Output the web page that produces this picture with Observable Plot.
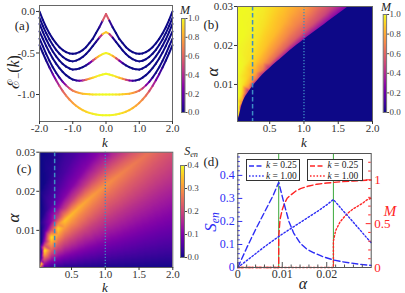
<!DOCTYPE html>
<html><head><meta charset="utf-8">
<script src="https://cdn.jsdelivr.net/npm/d3@7"></script>
<script src="https://cdn.jsdelivr.net/npm/@observablehq/plot@0.6"></script>
<style>
html,body{margin:0;padding:0;background:#fff;}
#root{position:relative;width:405px;height:293px;overflow:hidden;font-family:"Liberation Serif","DejaVu Serif",serif;color:#222;}
#root svg{position:absolute;overflow:visible;}
#root svg text{font-family:"Liberation Serif","DejaVu Serif",serif !important;}
.lbl{position:absolute;white-space:nowrap;line-height:1;}
.lbl sub{font-size:68%;vertical-align:-0.3em;}
.lg{position:absolute;border:1px solid #333;background:#fff;box-sizing:border-box;font-size:9.5px;}
.lg .row{position:absolute;left:2px;white-space:nowrap;line-height:10px;height:10px;}
.lg .row svg{position:relative !important;vertical-align:middle;}
</style></head><body><div id="root"></div>
<script>
// ---------------- DATA ----------------
// (a) lower band E_-(k), read at k = 0 ... 2.0 (symmetric in k)
const kHalf = [0,0.1,0.2,0.3,0.4,0.5,0.6,0.7,0.8,0.9,1.0,1.1,1.2,1.3,1.4,1.5,1.6,1.7,1.8,1.9,2.0];
const energy1 = [-0.03,-0.11,-0.19,-0.26,-0.33,-0.38,-0.43,-0.465,-0.49,-0.505,-0.51,-0.505,-0.49,-0.465,-0.43,-0.385,-0.33,-0.265,-0.19,-0.10,0.0];
const energy2 = [-0.25,-0.271,-0.314,-0.366,-0.418,-0.469,-0.512,-0.547,-0.574,-0.592,-0.601,-0.593,-0.575,-0.547,-0.509,-0.462,-0.404,-0.337,-0.26,-0.173,-0.076];
const energy3 = [-0.50,-0.513,-0.535,-0.562,-0.592,-0.622,-0.649,-0.671,-0.687,-0.697,-0.70,-0.686,-0.664,-0.633,-0.592,-0.541,-0.482,-0.413,-0.335,-0.247,-0.15];
const energy4 = [-0.75,-0.759,-0.77,-0.784,-0.798,-0.811,-0.822,-0.83,-0.833,-0.83,-0.82,-0.797,-0.767,-0.729,-0.682,-0.628,-0.566,-0.495,-0.415,-0.328,-0.24];
const energy5 = [-1.0,-1.0,-1.0,-1.0,-0.999,-0.998,-0.995,-0.99,-0.982,-0.97,-0.954,-0.926,-0.89,-0.847,-0.796,-0.738,-0.671,-0.595,-0.511,-0.418,-0.326];
const energy6 = [-1.25,-1.249,-1.246,-1.24,-1.232,-1.221,-1.207,-1.188,-1.164,-1.135,-1.101,-1.06,-1.013,-0.959,-0.897,-0.828,-0.755,-0.675,-0.59,-0.5,-0.405];
const magnet1 = [1,0.12,0,0,0,0,0,0,0,0,0,0,0,0,0,0,0,0,0,0,0];
const magnet2 = [1,0.75,0.1,0,0,0,0,0,0,0,0,0,0,0,0,0,0,0,0,0,0];
const magnet3 = [1,0.97,0.9,0.7,0.35,0.08,0,0,0,0,0,0,0,0,0,0,0,0,0,0,0];
const magnet4 = [1,1,0.98,0.95,0.9,0.8,0.6,0.35,0.12,0.02,0,0,0,0,0,0,0,0,0,0,0];
const magnet5 = [1,1,0.99,0.97,0.94,0.91,0.88,0.84,0.79,0.73,0.65,0.52,0.35,0.15,0.04,0,0,0,0,0,0];
const magnet6 = [1,1,0.99,0.98,0.96,0.94,0.91,0.88,0.85,0.81,0.77,0.72,0.66,0.58,0.45,0.3,0.15,0.05,0,0,0];
const kTicksA = [-2,-1,0,1,2];
const eTicksA = [0,-0.5,-1];

// (b),(c): samples read along columns of fixed k (alpha values per column)
const kMesh  = [0.03,0.05,0.1,0.2,0.3,0.4,0.5,0.6,0.7,0.8,0.9,1.0,1.1,1.2,1.3,1.4,1.5,1.6,1.7,1.8,1.9,2.0];
const alphaC = [0.0002,0.0015,0.0049,0.0082,0.0105,0.0125,0.0141,0.0157,0.0172,0.0187,0.0201,0.0215,0.0228,0.0241,0.0254,0.0267,0.028,0.0293,0.0307,0.032,0.033,0.034];
const meshAlpha = [
 [0,0.0002,0.002,0.006,0.012,0.02,0.03],
 [0,0.00045,0.0009,0.00128,0.0015,0.00165,0.00188,0.00225,0.003,0.0045,0.00675,0.0105,0.0165,0.03],
 [0,0.00147,0.00294,0.00417,0.0049,0.00539,0.00613,0.00735,0.0098,0.0147,0.02205,0.03],
 [0,0.00246,0.00492,0.00697,0.0082,0.00902,0.01025,0.0123,0.0164,0.0246,0.03],
 [0,0.00315,0.0063,0.00893,0.0105,0.01155,0.01313,0.01575,0.021,0.03],
 [0,0.00375,0.0075,0.01063,0.0125,0.01375,0.01563,0.01875,0.025,0.03],
 [0,0.00423,0.00846,0.01199,0.0141,0.01551,0.01763,0.02115,0.0282,0.03],
 [0,0.00471,0.00942,0.01335,0.0157,0.01727,0.01963,0.02355,0.03],
 [0,0.00516,0.01032,0.01462,0.0172,0.01892,0.0215,0.0258,0.03],
 [0,0.00561,0.01122,0.0159,0.0187,0.02057,0.02338,0.02805,0.03],
 [0,0.00603,0.01206,0.01709,0.0201,0.02211,0.02513,0.03],
 [0,0.00645,0.0129,0.01828,0.0215,0.02365,0.02688,0.03],
 [0,0.00684,0.01368,0.01938,0.0228,0.02508,0.0285,0.03],
 [0,0.00723,0.01446,0.02049,0.0241,0.02651,0.03],
 [0,0.00762,0.01524,0.02159,0.0254,0.02794,0.03],
 [0,0.00801,0.01602,0.0227,0.0267,0.02937,0.03],
 [0,0.0084,0.0168,0.0238,0.028,0.03],
 [0,0.00879,0.01758,0.02491,0.0293,0.03],
 [0,0.00921,0.01842,0.0261,0.03],
 [0,0.0096,0.0192,0.0272,0.03],
 [0,0.0099,0.0198,0.02805,0.03],
 [0,0.0102,0.0204,0.0289,0.03]
];
const meshM = [
 [0,0.4,1,1,1,1,1],
 [0,0,0,0,0.35,0.68,0.81,0.89,0.955,0.99,1,1,1,1],
 [0,0,0,0,0.35,0.68,0.81,0.89,0.955,0.99,1,1],
 [0,0,0,0,0.35,0.68,0.81,0.89,0.955,0.99,0.995],
 [0,0,0,0,0.36,0.68,0.8,0.885,0.95,0.985],
 [0,0,0,0,0.37,0.67,0.79,0.88,0.945,0.97],
 [0,0,0,0,0.36,0.64,0.76,0.86,0.93,0.94],
 [0,0,0,0,0.35,0.62,0.74,0.85,0.91],
 [0,0,0,0,0.34,0.6,0.72,0.83,0.88],
 [0,0,0,0,0.32,0.58,0.7,0.81,0.84],
 [0,0,0,0,0.31,0.57,0.69,0.8],
 [0,0,0,0,0.3,0.56,0.69,0.79],
 [0,0,0,0,0.29,0.54,0.67,0.71],
 [0,0,0,0,0.28,0.52,0.64],
 [0,0,0,0,0.27,0.5,0.58],
 [0,0,0,0,0.26,0.47,0.5],
 [0,0,0,0,0.25,0.4],
 [0,0,0,0,0.24,0.3],
 [0,0,0,0,0],
 [0,0,0,0,0],
 [0,0,0,0,0],
 [0,0,0,0,0]
];
const meshS = [
 [0,0.40,0.02,0.003,0,0,0],
 [0,0.128,0.25,0.345,0.40,0.32,0.212,0.12,0.056,0.016,0.004,0.001,0,0],
 [0,0.127,0.246,0.341,0.395,0.316,0.209,0.119,0.055,0.016,0.004,0.002],
 [0,0.122,0.237,0.328,0.38,0.304,0.201,0.114,0.053,0.015,0.007],
 [0,0.117,0.228,0.315,0.365,0.292,0.193,0.11,0.051,0.016],
 [0,0.112,0.218,0.302,0.35,0.28,0.186,0.105,0.049,0.032],
 [0,0.109,0.212,0.293,0.34,0.275,0.187,0.105,0.049,0.043],
 [0,0.106,0.206,0.285,0.33,0.269,0.185,0.105,0.056],
 [0,0.103,0.2,0.276,0.32,0.264,0.184,0.106,0.067],
 [0,0.1,0.193,0.268,0.31,0.257,0.183,0.105,0.09],
 [0,0.097,0.188,0.261,0.302,0.252,0.181,0.106],
 [0,0.096,0.181,0.249,0.295,0.247,0.176,0.108],
 [0,0.092,0.18,0.248,0.288,0.242,0.173,0.15],
 [0,0.091,0.176,0.243,0.282,0.237,0.17],
 [0,0.089,0.172,0.238,0.276,0.232,0.193],
 [0,0.087,0.168,0.233,0.27,0.227,0.216],
 [0,0.085,0.165,0.229,0.265,0.233],
 [0,0.083,0.162,0.224,0.26,0.25],
 [0,0.082,0.159,0.22,0.25],
 [0,0.08,0.156,0.216,0.236],
 [0,0.079,0.153,0.211,0.225],
 [0,0.077,0.15,0.207,0.214]
];
const markedK = [0.25, 1.0];
const kTicksBC = [0.5,1.0,1.5,2.0];
const alphaTicksBC = [0.01,0.02,0.03];

// (d) cuts at k = 0.25 and k = 1.00
const alphaS025 = [0,0.002,0.004,0.006,0.008,0.0092,0.0104,0.0115,0.0126,0.0141,0.0155,0.0171,0.019,0.0216,0.0235,0.0253,0.0275,0.0294,0.030];
const sEn025    = [0,0.085,0.165,0.24,0.315,0.37,0.278,0.2,0.148,0.104,0.08,0.064,0.048,0.032,0.025,0.02,0.014,0.01,0.009];
const alphaS100 = [0,0.002,0.004,0.006,0.008,0.010,0.012,0.014,0.016,0.018,0.020,0.0215,0.0225,0.0235,0.0245,0.0255,0.0265,0.0275,0.0285,0.0295,0.030];
const sEn100    = [0,0.03,0.06,0.09,0.118,0.145,0.17,0.195,0.22,0.245,0.272,0.295,0.273,0.25,0.229,0.207,0.185,0.163,0.14,0.118,0.108];
const alphaM025 = [0,0.0092,0.0092,0.0095,0.0100,0.0105,0.0111,0.012,0.013,0.0141,0.016,0.0178,0.020,0.0231,0.026,0.0294,0.030];
const mag025    = [0,0,0.35,0.55,0.66,0.73,0.79,0.83,0.87,0.9,0.93,0.95,0.963,0.977,0.987,0.996,0.997];
const alphaM100 = [0,0.0215,0.0215,0.022,0.023,0.024,0.025,0.026,0.027,0.028,0.029,0.030];
const mag100    = [0,0,0.3,0.42,0.52,0.58,0.63,0.67,0.7,0.73,0.77,0.79];
const transitionAlpha = [0.0092, 0.0215];
const alphaTicksD = [0,0.01,0.02];
const alphaMinorD = [0.002,0.004,0.006,0.008,0.012,0.014,0.016,0.018,0.022,0.024,0.026,0.028];
const sTicksD = [0,0.1,0.2,0.3,0.4];
const sMinorD = [0.02,0.04,0.06,0.08,0.12,0.14,0.16,0.18,0.22,0.24,0.26,0.28,0.32,0.34,0.36,0.38,0.42,0.44,0.46,0.48];
const mTicksD = [0,0.5,1];
const mMinorD = [0.1,0.2,0.3,0.4,0.6,0.7,0.8,0.9,1.1,1.2];
const legendLabels = ["0.25","1.00"];

// ---------------- DRAW ----------------
const SERIF = '"Liberation Serif","DejaVu Serif",serif';
const root = document.getElementById("root");
const BLUE = "#2d2df5", RED = "#ff2424", GREEN = "#3aa83a", GUIDE = "#3d8cc4";
const baseStyle = {fontFamily: SERIF, fontSize: "11px", color: "#333", background: "transparent", overflow: "visible"};
function place(svg, left, top) { svg.style.left = left + "px"; svg.style.top = top + "px"; root.appendChild(svg); }
function label(html, x, y, o = {}) {
  const d = document.createElement("div");
  d.className = "lbl";
  d.innerHTML = html;
  d.style.left = x + "px"; d.style.top = y + "px";
  d.style.transform = `translate(-50%,-50%)` + (o.rotate ? ` rotate(${o.rotate}deg)` : "");
  d.style.fontSize = (o.size || 14) + "px";
  d.style.color = o.color || "#222";
  d.style.fontStyle = o.italic ? "italic" : "normal";
  root.appendChild(d);
}
const fmt1 = d => d.toFixed(1), fmt2 = d => d.toFixed(2);

// ---- (a)
const mirror = a => [...a.slice(1).reverse(), ...a];
const kFull = [...kHalf.slice(1).reverse().map(k => -k), ...kHalf];
const energies = [energy1, energy2, energy3, energy4, energy5, energy6];
const magnets = [magnet1, magnet2, magnet3, magnet4, magnet5, magnet6];
const segA = [];
energies.forEach((E, c) => {
  const Ef = mirror(E), Mf = mirror(magnets[c]);
  for (let i = 0; i < kFull.length - 1; i++)
    segA.push({x1: kFull[i], y1: Ef[i], x2: kFull[i + 1], y2: Ef[i + 1], m: (Mf[i] + Mf[i + 1]) / 2});
});
place(Plot.plot({
  width: 178, height: 146, marginLeft: 39, marginRight: 6, marginTop: 5, marginBottom: 25,
  style: baseStyle,
  x: {domain: [-2, 2], label: null}, y: {domain: [-1.325, 0.072], label: null},
  color: {type: "linear", scheme: "plasma", domain: [0, 1]},
  marks: [
    Plot.link(segA, {x1: "x1", y1: "y1", x2: "x2", y2: "y2", stroke: "m", strokeWidth: 2, strokeLinecap: "round"}),
    Plot.frame({stroke: "#666"}),
    Plot.axisX({ticks: kTicksA, tickFormat: fmt1, tickSize: 3, tickPadding: 0, label: null}),
    Plot.axisY({ticks: eTicksA, tickFormat: fmt1, tickSize: 3, tickPadding: 1.5, label: null})
  ]
}), 0, 0);

function colorbar(left, top, w, h, x0, bw, y0, y1, domain, ticks) {
  place(Plot.plot({
    width: w, height: h, marginLeft: x0, marginRight: w - x0 - bw, marginTop: y0, marginBottom: h - y1,
    style: {...baseStyle, fontSize: "9px", color: "#444"},
    x: {domain: [0, 1], axis: null}, y: {domain, axis: null},
    color: {type: "linear", scheme: "plasma", domain},
    marks: [
      Plot.raster({x1: 0, x2: 1, y1: domain[0], y2: domain[1], fill: (x, y) => y, pixelSize: 1}),
      Plot.frame({stroke: "#777"}),
      Plot.axisY({anchor: "right", ticks, tickFormat: fmt1, tickSize: 2, tickPadding: 1, label: null})
    ]
  }), left, top);
}
colorbar(178, 0, 27, 146, 3, 3.5, 18, 112, [0, 1], [0, 0.2, 0.4, 0.6, 0.8, 1]);

// ---- (b), (c)
const meshPoints = vals => kMesh.flatMap((k, i) => meshAlpha[i].map((a, j) => ({k, a, v: vals[i][j]})));
const boundary = kMesh.map((k, i) => ({k, alpha: alphaC[i]}));
function heat(left, top, w, h, m, values, domain, withBoundary) {
  place(Plot.plot({
    width: w, height: h, marginLeft: m[0], marginRight: m[1], marginTop: m[2], marginBottom: m[3],
    style: baseStyle,
    x: {domain: [0.03, 2.0], label: null}, y: {domain: [0.0005, 0.03], label: null},
    color: {type: "linear", scheme: "plasma", domain},
    marks: [
      Plot.raster(meshPoints(values), {x: "k", y: "a", fill: "v", interpolate: "barycentric", pixelSize: 1, clip: true}),
      withBoundary ? Plot.areaY(boundary, {x: "k", y1: 0, y2: "alpha", fill: d3.interpolatePlasma(0), curve: "monotone-x", clip: true}) : null,
      Plot.ruleX([markedK[0]], {stroke: GUIDE, strokeWidth: 1.5, strokeDasharray: "4.5,2.5"}),
      Plot.ruleX([markedK[1]], {stroke: GUIDE, strokeWidth: 1.3, strokeDasharray: "1.3,1.7"}),
      Plot.frame({stroke: "#666"}),
      Plot.axisX({ticks: kTicksBC, tickFormat: fmt1, tickSize: 3, tickPadding: 0, label: null}),
      Plot.axisY({ticks: alphaTicksBC, tickFormat: fmt2, tickSize: 3, tickPadding: 1.5, label: null})
    ]
  }), left, top);
}
heat(200, 0, 178, 146, [37, 6, 6, 25], meshM, [0, 1], true);
colorbar(378, 0, 27, 146, 4.7, 3.4, 14, 112, [0, 1], [0, 0.2, 0.4, 0.6, 0.8, 1]);
heat(0, 146, 178, 147, [39.3, 5.7, 5.7, 26], meshS, [0, 0.4], false);
colorbar(178, 146, 27, 147, 2, 4, 19, 111, [0, 0.4], [0, 0.1, 0.2, 0.3, 0.4]);

// ---- (d)
const sMax = 0.495, mMax = 1.30, factor = sMax / mMax;
const innerW = 205 - 37.3 - 34.3, innerH = 147 - 7 - 26;
const rows = (xs, ys) => xs.map((a, i) => ({a, v: ys[i]}));
const fmtD = v => { const r = Math.round(v * 100) / 100; return r === 0 ? "0" : String(r); };
place(Plot.plot({
  width: 205, height: 147, marginLeft: 37.3, marginRight: 34.3, marginTop: 7, marginBottom: 26,
  style: {...baseStyle, fontSize: "12px"},
  x: {domain: [0, 0.03], label: null}, y: {domain: [0, sMax], label: null},
  marks: [
    Plot.ruleX(transitionAlpha, {stroke: GREEN, strokeWidth: 1}),
    Plot.line(rows(alphaM025, mag025), {x: "a", y: d => d.v * factor, stroke: RED, strokeWidth: 1.4, strokeDasharray: "6,3"}),
    Plot.line(rows(alphaM100, mag100), {x: "a", y: d => d.v * factor, stroke: RED, strokeWidth: 1.4, strokeDasharray: "1.6,2"}),
    Plot.line(rows(alphaS025, sEn025), {x: "a", y: "v", stroke: BLUE, strokeWidth: 1.4, strokeDasharray: "6,3"}),
    Plot.line(rows(alphaS100, sEn100), {x: "a", y: "v", stroke: BLUE, strokeWidth: 1.4, strokeDasharray: "1.6,2"}),
    Plot.tickX(alphaTicksD, {x: d => d, insetTop: innerH - 5, stroke: "#555"}),
    Plot.tickX(alphaMinorD, {x: d => d, insetTop: innerH - 2.5, stroke: "#555"}),
    Plot.tickY(sTicksD, {y: d => d, insetRight: innerW - 5, stroke: BLUE}),
    Plot.tickY(sMinorD, {y: d => d, insetRight: innerW - 2.5, stroke: BLUE}),
    Plot.tickY(mTicksD.map(m => m * factor), {y: d => d, insetLeft: innerW - 5, stroke: RED}),
    Plot.tickY(mMinorD.map(m => m * factor), {y: d => d, insetLeft: innerW - 2.5, stroke: RED}),
    Plot.frame({stroke: "#555"}),
    Plot.axisX({ticks: alphaTicksD, tickFormat: fmtD, tickSize: 0, tickPadding: 2, label: null}),
    Plot.axisY({ticks: sTicksD, tickFormat: fmtD, tickSize: 0, tickPadding: 3, color: BLUE, label: null}),
    Plot.axisY({anchor: "right", ticks: mTicksD.map(m => m * factor), tickFormat: d => fmtD(d / factor), tickSize: 0, tickPadding: 3, color: RED, fontSize: 13, label: null})
  ]
}), 200, 146);

// legends of (d)
function legendBox(left, top, w, color) {
  const box = document.createElement("div");
  box.className = "lg";
  box.style.cssText += `left:${left}px;top:${top}px;width:${w}px;height:22px;`;
  const dashes = ["5,2.5", "1.5,1.8"];
  legendLabels.forEach((t, i) => {
    const r = document.createElement("div");
    r.className = "row";
    r.style.top = (0.5 + i * 10.5) + "px";
    r.innerHTML = `<svg width="15" height="6" style="position:relative"><line x1="0" y1="3" x2="15" y2="3" stroke="${color}" stroke-width="1.3" stroke-dasharray="${dashes[i]}"/></svg> <i>k</i> = ${t}`;
    box.appendChild(r);
  });
  root.appendChild(box);
}
legendBox(245.5, 158.5, 54, BLUE);
legendBox(307, 158.5, 56, RED);

// ---- text labels
label("ℰ<sub>−</sub>(<i>k</i>)", 15, 72, {size: 16, rotate: -90});
label("k", 105, 141.5, {size: 13, italic: true});
label("k", 304, 141.5, {size: 13, italic: true});
label("k", 105, 286.5, {size: 13, italic: true});
label("α", 212, 72, {size: 17, italic: true, rotate: -90});
label("α", 13, 218, {size: 17, italic: true, rotate: -90});
label("α", 303, 284, {size: 16, italic: true});
label("S<sub>en</sub>", 212, 222, {size: 17, italic: true, rotate: -90, color: BLUE});
label("M", 390, 211, {size: 15, italic: true, color: RED});
label("M", 185, 10, {size: 12, italic: true});
label("M", 386, 7, {size: 12, italic: true});
label("S<sub>en</sub>", 191, 152, {size: 12, italic: true});
label("(a)", 22, 25, {size: 13});
label("(b)", 211, 24, {size: 13});
label("(c)", 24, 168, {size: 13});
label("(d)", 211, 161, {size: 13});
</script></body></html>
